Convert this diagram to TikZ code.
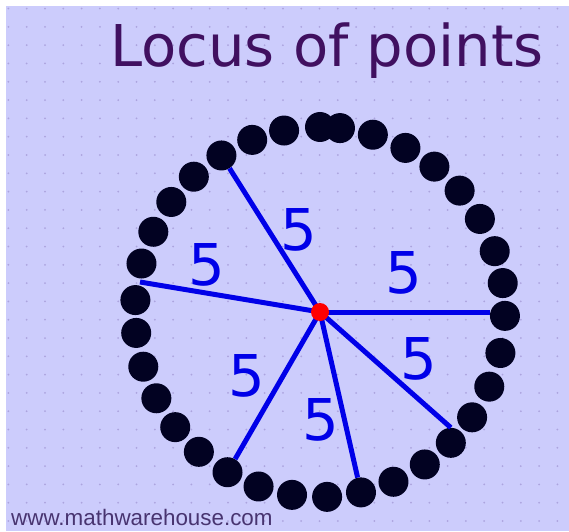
\documentclass[tikz,border=0pt]{standalone}
\usepackage{fontspec}
\setmainfont{DejaVu Sans}
\newfontfamily\webfont{Liberation Sans}
\definecolor{lavender}{RGB}{204,204,252}
\definecolor{gridpt}{RGB}{172,164,222}
\definecolor{titlepurple}{RGB}{64,16,96}
\definecolor{lineblue}{RGB}{0,0,232}
\definecolor{dotblack}{RGB}{2,2,34}
\definecolor{webgray}{RGB}{72,52,112}

\begin{document}
\begin{tikzpicture}[x=1pt, y=1pt,
    dot/.style={circle, fill=dotblack, inner sep=0pt, minimum size=30pt},
    centre/.style={circle, fill=red, inner sep=0pt, minimum size=18pt},
    radius line/.style={draw=lineblue, line width=5pt},
    dist/.style={text=lineblue, font=\fontsize{57.6}{60}\selectfont, inner sep=0pt}]
    % Background with dotted grid
    \fill[white] (0,0) rectangle (569,531);
    \fill[lavender] (6,0) rectangle (569,525);
    \foreach \gx in {0,...,30} {
        \foreach \gy in {0,...,28} {
            \fill[gridpt] (8.4+18.3*\gx, 522.4-18.3*\gy) circle (1);
        }
    }
    \useasboundingbox (0,0) rectangle (569,531);

    % Title
    \node[anchor=base west, inner sep=0pt, text=titlepurple, font=\fontsize{57.6}{60}\selectfont] (title) at (110,464) {Locus of points};

    % Points at the same distance from the centre
    \coordinate (c) at (320,219);
    \begin{scope}[shift={(c)}]
        \foreach \a [count=\i] in {101.2, 90, 83.8, 73.4, 62.5, 51.8, 41, 30.2, 19.2, 9, -1.2, -12.8, -23.8, -34.7, -45, -55.5, -66.6, -77.2, -87.8, -98.7, -109.4, -120, -130.9, -141.5, -152.2, -162.8, -173.5, 176.3, 164.8, 154.3, 143.5, 133, 122.2, 111.5} {
            \node[dot] (d\i) at (\a:185) {};
        }
    \end{scope}
    \coordinate (lend) at (140,249);

    % Radii
    \foreach \e in {d33, lend, d15.north, d18, d22} {
        \draw[radius line] (c) -- (\e);
    }
    \draw[radius line] (c) -- (c -| d11.west);
    \node[centre] (ctr) at (c) {};

    % Labels
    \foreach \x/\y [count=\i] in {299/301, 207/266, 404/258, 419/172, 247/155, 321/111} {
        \node[dist] (five\i) at (\x,\y) {5};
    }

    \node[anchor=base west, inner sep=0pt, text=webgray, font=\webfont\fontsize{22.4}{24}\selectfont] (web) at (11,6) {www.mathwarehouse.com};
\end{tikzpicture}
\end{document}
